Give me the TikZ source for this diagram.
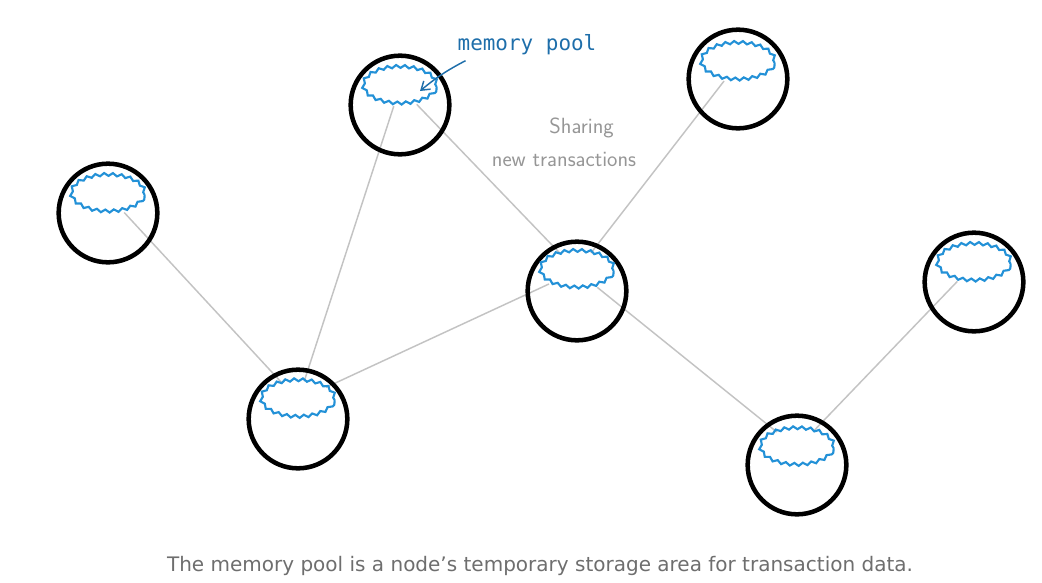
\documentclass[tikz,border=0pt]{standalone}
\usepackage{fontspec}
\setmainfont{DejaVu Sans}
\newfontfamily\monofont{DejaVu Sans Mono}
\usetikzlibrary{shapes.geometric,decorations.pathmorphing,backgrounds,arrows.meta}

\definecolor{poolblue}{RGB}{35,145,215}
\definecolor{labelblue}{RGB}{30,110,170}
\definecolor{edgegray}{RGB}{195,195,195}
\definecolor{notegray}{RGB}{150,150,150}
\definecolor{captiongray}{RGB}{110,110,110}

\tikzset{every picture/.style={line width=0.75pt}}
\tikzset{
  peer/.style={circle, draw=black, line width=3.4pt, minimum size=74pt, inner sep=0pt},
  mempool/.style={ellipse, draw=poolblue, line width=1.6pt, minimum width=55pt, minimum height=27.5pt, inner sep=0pt,
    decorate, decoration={snake, segment length=6.5pt, amplitude=1.1pt}},
  gossip/.style={draw=edgegray, line width=1.1pt}
}

\begin{document}
\begin{tikzpicture}[x=0.75pt,y=0.75pt,yscale=-1,xscale=1]
		\useasboundingbox (0,0) rectangle (1042,582);
		%Shape: Circle
		\node [peer] (n1) at (400,105) {};
		\node [peer] (n2) at (108,213) {};
		\node [peer] (n3) at (738,79) {};
		\node [peer] (n4) at (577,291) {};
		\node [peer] (n5) at (974,282) {};
		\node [peer] (n6) at (298,419) {};
		\node [peer] (n7) at (797,465) {};

		%Shape: Cloud
		\node [mempool] (p1) at ([yshift=-13.5pt]n1.center) {};
		\node [mempool] (p2) at ([yshift=-13.5pt]n2.center) {};
		\node [mempool] (p3) at ([yshift=-12pt]n3.center) {};
		\node [mempool] (p4) at ([yshift=-15pt]n4.center) {};
		\node [mempool] (p5) at ([yshift=-13.5pt]n5.center) {};
		\node [mempool] (p6) at ([yshift=-14pt]n6.center) {};
		\node [mempool] (p7) at ([yshift=-12.5pt]n7.center) {};

		%Straight Lines
		\begin{scope}[on background layer]
		\draw [gossip] (p2) -- (p6) ;
		\draw [gossip] (p1) -- (p6) ;
		\draw [gossip] (p1) -- (p4) ;
		\draw [gossip] (p3) -- (p4) ;
		\draw [gossip] (p6) -- (p4) ;
		\draw [gossip] (p4) -- (p7) ;
		\draw [gossip] (p5) -- (p7) ;
		\end{scope}

		% Text Node
		\node [inner sep=0.75pt, text=labelblue, font=\monofont\fontsize{15.7}{18}\selectfont] (poollabel) at (527,45) {memory pool};
		\coordinate (pooltip) at ([xshift=15pt,yshift=3pt]p1.center);
		\draw [labelblue, line width=1.1pt, -{Straight Barb[length=6pt,width=8pt]}] ([xshift=7pt,yshift=3pt]poollabel.south west) to[bend left=6] (pooltip) ;
		% Text Node
		\node [inner sep=0.75pt, align=center, text=notegray, font=\sffamily\fontsize{16.5}{25}\selectfont] (sharing) at (564,142) {\hspace*{1.6em}Sharing\\new transactions};
		% Text Node
		\node [inner sep=0.75pt, text=captiongray, font=\fontsize{15}{18}\selectfont] (caption) at (540,566) {The memory pool is a node’s temporary storage area for transaction data.};
\end{tikzpicture}
\end{document}
